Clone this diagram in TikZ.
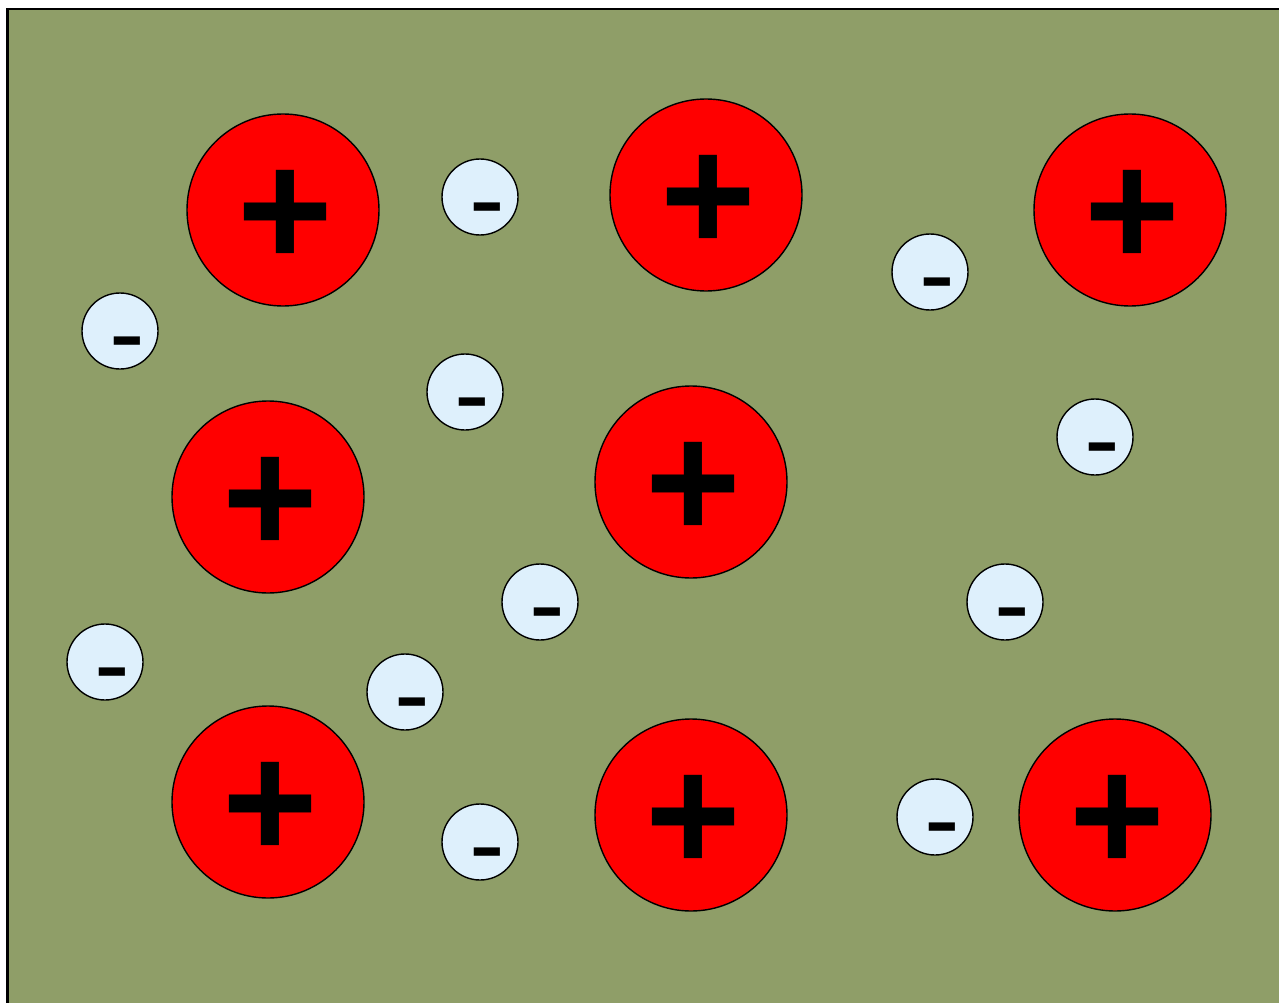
\documentclass[tikz,border=0pt]{standalone}
\usepackage{fontspec}
\newfontfamily\signfont{Liberation Sans}
\definecolor{bg}{RGB}{143,158,104}
\definecolor{ionred}{RGB}{255,0,0}
\definecolor{elblue}{RGB}{222,240,252}
\tikzset{
  ion/.style={circle, draw=black, line width=1.4pt, fill=ionred, minimum size=192pt, inner sep=0pt},
  electron/.style={circle, draw=black, line width=1.4pt, fill=elblue, minimum size=76pt, inner sep=0pt},
  plussign/.style={anchor=base, inner sep=0pt, font=\signfont\bfseries\fontsize{164}{164}\selectfont},
  minussign/.style={anchor=base, inner sep=0pt, font=\signfont\fontsize{107}{107}\selectfont}
}
\newcommand{\posion}[3]{%
  \node[ion] (#1) at (#2,#3) {};
  \node[plussign] (#1t) at ($(#2,#3)+(2,56.5)$) {+};
}
\newcommand{\negel}[3]{%
  \node[electron] (#1) at (#2,#3) {};
  \node[minussign] (#1t) at ($(#2,#3)+(7,38.5)$) {-};
}
\usetikzlibrary{calc}
\begin{document}
\begin{tikzpicture}[x=1pt,y=-1pt]
\useasboundingbox (0,0) rectangle (1279,1003);
\clip (0,0) rectangle (1279,1003);
\draw[fill=bg, line width=2.5pt] (7.5,9) rectangle (1300,1030);
\posion{p1}{283}{210}
\posion{p2}{706}{195}
\posion{p3}{1130}{210}
\posion{p4}{268}{497}
\posion{p5}{691}{482}
\posion{p6}{268}{802}
\posion{p7}{691}{815}
\posion{p8}{1115}{815}
\negel{e1}{480}{197}
\negel{e2}{930}{272}
\negel{e3}{120}{331}
\negel{e4}{465}{392}
\negel{e5}{1095}{437}
\negel{e6}{540}{602}
\negel{e7}{1005}{602}
\negel{e8}{105}{662}
\negel{e9}{405}{692}
\negel{e10}{480}{842}
\negel{e11}{935}{817}
\end{tikzpicture}
\end{document}
